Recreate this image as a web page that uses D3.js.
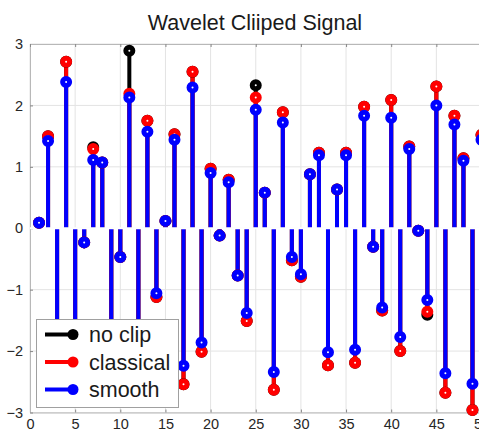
<!DOCTYPE html>
<html>
<head>
<meta charset="utf-8">
<script src="https://cdn.jsdelivr.net/npm/d3@7"></script>
<style>
  body { margin: 0; background: #fff; overflow: hidden; }
  svg { display: block; font-family: "Liberation Sans", Arial, Helvetica, sans-serif; }
</style>
</head>
<body>
<div id="chart"></div>
<script>
// sample index
var samples = [1,2,3,4,5,6,7,8,9,10,11,12,13,14,15,16,17,18,19,20,21,22,23,24,25,
               26,27,28,29,30,31,32,33,34,35,36,37,38,39,40,41,42,43,44,45,46,47,48,49,50];

// signal values
var noClip = [0.09,1.50,-2.5,2.71,-2.2,-0.23,1.32,1.07,-2.0,-0.47,2.89,-2.4,1.75,-1.12,0.12,1.53,-2.54,2.55,-2.01,0.97,
              -0.12,0.79,-0.77,-1.51,2.33,0.58,-2.63,1.89,-0.52,-0.79,0.88,1.23,-2.23,0.63,1.23,-2.19,1.98,-0.30,-1.34,2.09,
              -2.00,1.33,-0.04,-1.41,2.31,-2.68,1.83,1.14,-2.96,1.52];
var classical = [0.09,1.50,-2.5,2.71,-2.2,-0.23,1.29,1.07,-2.0,-0.47,2.19,-2.4,1.75,-1.12,0.12,1.53,-2.54,2.55,-2.01,0.97,
                 -0.12,0.79,-0.77,-1.51,2.13,0.58,-2.63,1.89,-0.52,-0.79,0.88,1.23,-2.23,0.63,1.23,-2.19,1.98,-0.30,-1.34,2.09,
                 -2.00,1.33,-0.04,-1.36,2.31,-2.68,1.83,1.14,-2.96,1.52];
var smooth = [0.09,1.42,-2.3,2.38,-2.0,-0.23,1.11,1.07,-1.9,-0.47,2.13,-2.2,1.57,-1.06,0.12,1.44,-2.24,2.29,-1.86,0.90,
              -0.12,0.75,-0.77,-1.38,1.93,0.58,-2.34,1.72,-0.47,-0.75,0.88,1.19,-2.02,0.63,1.19,-1.98,1.83,-0.30,-1.29,1.80,
              -1.77,1.29,-0.04,-1.17,2.00,-2.36,1.69,1.10,-2.53,1.44];

var seriesNames = ["no clip", "classical", "smooth"];
var seriesColors = ["#000000", "#ff0000", "#0000ff"];
var xTicks = [0,5,10,15,20,25,30,35,40,45,50];
var yTicks = [-3,-2,-1,0,1,2,3];

var svgWidth = 479, svgHeight = 431;
var plot = { left: 30, right: 481.5, top: 44, bottom: 412.5 };

var svg = d3.select("#chart").append("svg")
    .attr("width", svgWidth)
    .attr("height", svgHeight);

var x = d3.scaleLinear().domain([0, 50]).range([plot.left, plot.right]);
var y = d3.scaleLinear().domain([-3, 3]).range([plot.bottom, plot.top]);

// grid
svg.append("g").selectAll("line").data(xTicks).enter().append("line")
    .attr("x1", d => x(d)).attr("x2", d => x(d))
    .attr("y1", plot.top).attr("y2", plot.bottom)
    .attr("stroke", "#e3e3e3").attr("stroke-width", 1);
svg.append("g").selectAll("line").data(yTicks).enter().append("line")
    .attr("x1", plot.left).attr("x2", plot.right)
    .attr("y1", d => y(d)).attr("y2", d => y(d))
    .attr("stroke", "#e3e3e3").attr("stroke-width", 1);

// axes box with inward ticks
var bottomAxis = d3.axisBottom(x).tickValues(xTicks).tickFormat(d3.format("d"))
    .tickSizeInner(-3).tickSizeOuter(0).tickPadding(6.5);
var leftAxis = d3.axisLeft(y).tickValues(yTicks).tickFormat(d3.format("d"))
    .tickSizeInner(-3).tickSizeOuter(0).tickPadding(7);
var topAxis = d3.axisTop(x).tickValues(xTicks).tickSizeInner(-3).tickSizeOuter(0).tickFormat("");

var gx = svg.append("g").attr("transform", `translate(0, ${plot.bottom})`).call(bottomAxis);
var gy = svg.append("g").attr("transform", `translate(${plot.left}, 0)`).call(leftAxis);
var gt = svg.append("g").attr("transform", `translate(0, ${plot.top})`).call(topAxis);
[gx, gy, gt].forEach(g => {
    g.select(".domain").attr("stroke", "#b8b8b8");
    g.selectAll(".tick line").attr("stroke", "#888");
    g.selectAll(".tick text").attr("fill", "#262626").style("font-size", "14.5px")
        .style("font-family", "'Liberation Sans', Arial, sans-serif");
});

// stems, one series at a time
var allSeries = [noClip, classical, smooth];
allSeries.forEach((vals, i) => {
    var pts = samples.map((s, k) => ({ s: s, v: vals[k] }));
    svg.append("g").selectAll("line").data(pts).enter().append("line")
        .attr("x1", d => x(d.s)).attr("x2", d => x(d.s))
        .attr("y1", y(0)).attr("y2", d => y(d.v))
        .attr("stroke", seriesColors[i]).attr("stroke-width", 4);
});

// baseline
svg.append("line")
    .attr("x1", plot.left).attr("x2", plot.right)
    .attr("y1", y(0)).attr("y2", y(0))
    .attr("stroke", "#fff").attr("stroke-width", 2);

allSeries.forEach((vals, i) => {
    var pts = samples.map((s, k) => ({ s: s, v: vals[k] }));
    svg.append("g").selectAll("circle").data(pts).enter().append("circle")
        .attr("cx", d => x(d.s)).attr("cy", d => y(d.v))
        .attr("r", 3.5)
        .attr("fill", "#fff")
        .attr("stroke", seriesColors[i]).attr("stroke-width", 5);
});

// title
svg.append("text")
    .attr("x", 255).attr("y", 30)
    .attr("text-anchor", "middle")
    .attr("fill", "#1a1a1a")
    .style("font-size", "21.5px")
    .text("Wavelet Cliiped Signal");

// legend
var legend = svg.append("g");
legend.append("rect")
    .attr("x", 36.5).attr("y", 319.5).attr("width", 142).attr("height", 88)
    .attr("fill", "#fff").attr("stroke", "#a0a0a0").attr("stroke-width", 1);
var rows = legend.selectAll("g.row").data(seriesNames).enter().append("g")
    .attr("class", "row")
    .attr("transform", (d, i) => `translate(0, ${334.5 + i * 27.5})`);
rows.append("line")
    .attr("x1", 45).attr("x2", 73).attr("y1", 0).attr("y2", 0)
    .attr("stroke", (d, i) => seriesColors[i]).attr("stroke-width", 4);
rows.append("circle")
    .attr("cx", 73).attr("cy", 0).attr("r", 5.5)
    .attr("fill", (d, i) => seriesColors[i]);
rows.append("text")
    .attr("x", 89).attr("y", 7.5)
    .attr("fill", "#1a1a1a")
    .style("font-size", "21.5px")
    .text(d => d);
</script>
</body>
</html>
